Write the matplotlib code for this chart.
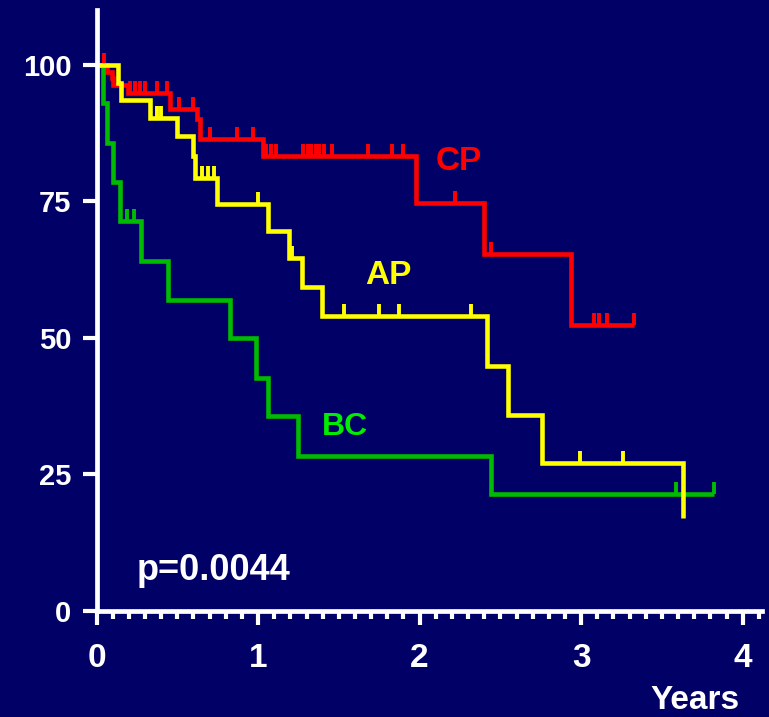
import matplotlib
matplotlib.use("Agg")
import matplotlib.pyplot as plt
from matplotlib.ticker import MultipleLocator

# ---- data ----
cp_times = [0, 0.065, 0.094, 0.104, 0.195, 0.455, 0.62, 0.64, 1.03, 1.976, 2.40, 2.94, 3.33]
cp_surv = [100, 98.7, 97.5, 96.3, 94.9, 91.8, 90.0, 86.3, 83.2, 74.6, 65.4, 52.3, 52.3]
cp_cens_t = [0.045, 0.21, 0.24, 0.27, 0.30, 0.374, 0.436, 0.51, 0.60, 0.70, 0.87, 0.97,
             1.05, 1.08, 1.11, 1.28, 1.31, 1.33, 1.36, 1.38, 1.41, 1.46, 1.68, 1.83, 1.90,
             2.22, 2.44, 3.08, 3.11, 3.16, 3.33]
cp_cens_s = [100, 94.9, 94.9, 94.9, 94.9, 94.9, 94.9, 91.8, 91.8, 86.3, 86.3, 86.3,
             83.2, 83.2, 83.2, 83.2, 83.2, 83.2, 83.2, 83.2, 83.2, 83.2, 83.2, 83.2, 83.2,
             74.6, 65.4, 52.3, 52.3, 52.3, 52.3]

ap_times = [0, 0.13, 0.15, 0.33, 0.50, 0.595, 0.61, 0.745, 1.06, 1.19, 1.27, 1.395, 2.42, 2.55, 2.755, 3.63]
ap_surv = [100, 96.7, 93.5, 90.3, 86.9, 83.2, 79.3, 74.5, 69.5, 64.6, 59.3, 54.0, 44.9, 35.9, 27.0, 17.0]
ap_cens_t = [0.375, 0.40, 0.65, 0.69, 0.73, 1.00, 1.21, 1.53, 1.75, 1.87, 2.32, 2.99, 3.26]
ap_cens_s = [90.3, 90.3, 79.3, 79.3, 79.3, 74.5, 64.6, 54.0, 54.0, 54.0, 54.0, 27.0, 27.0]

bc_times = [0, 0.04, 0.065, 0.10, 0.145, 0.275, 0.442, 0.826, 0.986, 1.061, 1.246, 2.44, 3.82]
bc_surv = [100, 92.9, 85.7, 78.6, 71.4, 64.1, 56.9, 49.9, 42.7, 35.6, 28.4, 21.4, 21.4]
bc_cens_t = [0.19, 0.23, 3.59, 3.82]
bc_cens_s = [71.4, 71.4, 21.4, 21.4]

x_ticks = [0, 1, 2, 3, 4]
y_ticks = [0, 25, 50, 75, 100]
group_labels = ["CP", "AP", "BC"]
p_text = "p=0.0044"
x_title = "Years"

# ---- style ----
BG = "#000066"
RED = "#FF0000"
YEL = "#FFFF00"
GRN = "#00BB00"
GRN_T = "#00EE00"
LW = 3.3
TICK_H = 2.2

fig = plt.figure(figsize=(7.69, 7.17), dpi=100, facecolor=BG)
ax = fig.add_axes([0.1255, 0.148, 0.8655, 0.838])
ax.set_facecolor(BG)

def draw(times, surv, ct, cs, color, z):
    ax.step(times, surv, where="post", color=color, lw=LW, zorder=z,
            solid_joinstyle="miter", solid_capstyle="butt")
    ax.vlines(ct, cs, [s + TICK_H for s in cs], color=color, lw=LW * 0.85, zorder=z)

draw(cp_times, cp_surv, cp_cens_t, cp_cens_s, RED, 3)
draw(bc_times, bc_surv, bc_cens_t, bc_cens_s, GRN, 4)
draw(ap_times, ap_surv, ap_cens_t, ap_cens_s, YEL, 5)

ax.set_xlim(0, 4.12)
ax.set_ylim(0, 110)
ax.set_xticks(x_ticks)
ax.set_yticks(y_ticks)
ax.xaxis.set_minor_locator(MultipleLocator(0.1))

for s in ["top", "right"]:
    ax.spines[s].set_visible(False)
for s in ["left", "bottom"]:
    ax.spines[s].set_color("white")
    ax.spines[s].set_linewidth(3.4)
    ax.spines[s].set_zorder(6)

ax.tick_params(axis="both", which="major", colors="white", width=3.0, length=10, direction="out")
ax.tick_params(axis="x", which="minor", colors="white", width=3.0, length=6, direction="out")
ax.tick_params(axis="y", which="major", pad=8)
ax.tick_params(axis="x", which="major", pad=13)

sans = ["Liberation Sans", "DejaVu Sans"]
for lab in ax.get_yticklabels():
    lab.set_fontfamily(sans)
    lab.set_fontsize(21)
    lab.set_fontweight("bold")
    lab.set_color("white")
for lab in ax.get_xticklabels():
    lab.set_fontfamily(sans)
    lab.set_fontsize(24)
    lab.set_fontweight("bold")
    lab.set_color("white")

ax.text(2.10, 80.8, group_labels[0], color=RED, fontsize=24, fontweight="bold",
        family=sans, ha="left", va="baseline")
ax.text(1.66, 59.8, group_labels[1], color=YEL, fontsize=24, fontweight="bold",
        family=sans, ha="left", va="baseline")
ax.text(1.395, 32.2, group_labels[2], color=GRN_T, fontsize=23, fontweight="bold",
        family=sans, ha="left", va="baseline")

fig.text(137 / 769, (717 - 580) / 717, p_text, color="white", fontsize=26,
         fontweight="bold", family=sans, ha="left", va="baseline")
fig.text(740 / 769, (717 - 709) / 717, x_title, color="white", fontsize=24,
         fontweight="bold", family=sans, ha="right", va="baseline")

fig.savefig("out.png", dpi=100, facecolor=BG)
